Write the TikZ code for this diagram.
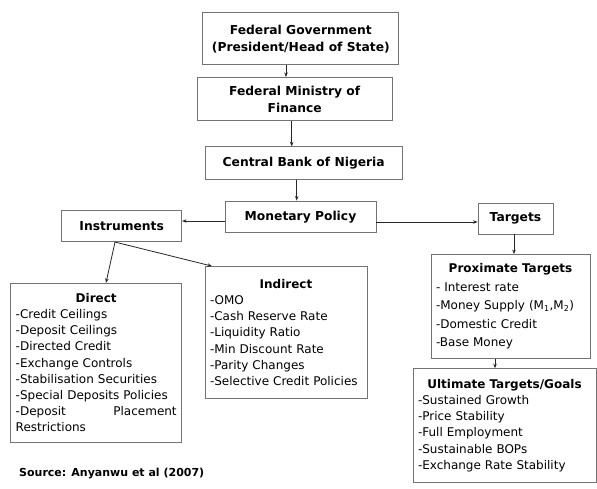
\documentclass[tikz,border=0pt]{standalone}
\usepackage{fontspec}
\setmainfont{DejaVu Sans}
\usetikzlibrary{arrows.meta}
\begin{document}
\begin{tikzpicture}[x=1pt,y=-1pt,
  box/.style={draw=black!55, line width=0.8pt, fill=white, inner sep=0pt, align=center,
    font=\bfseries\fontsize{12.3}{17.3}\selectfont},
  lst/.style={draw=black!55, line width=0.8pt, fill=white, inner xsep=5pt, inner ysep=0pt, align=left,
    font=\fontsize{12}{16.2}\selectfont},
  arr/.style={-{Stealth[length=4.5pt,width=3.5pt]}, line width=0.8pt, draw=black!85}]
\useasboundingbox[fill=white] (0,0) rectangle (597,488);

\node[box, minimum width=196, minimum height=52] (fed) at (300.8,38.8)
  {Federal Government\\(President/Head of State)};
\node[box, minimum width=195, minimum height=43.5] (min) at (294.7,99.1)
  {Federal Ministry of\\Finance};
\node[box, minimum width=197, minimum height=32.6] (cbn) at (303.7,163)
  {Central Bank of Nigeria};
\node[box, minimum width=151, minimum height=31.7] (mp) at (300.5,216.8)
  {Monetary Policy};
\node[box, minimum width=120, minimum height=31.7] (ins) at (121.7,225.8)
  {Instruments};
\node[box, minimum width=75, minimum height=31] (tgt) at (515.5,218.5)
  {Targets};

\node[lst, minimum width=171, minimum height=158.7, text width=161] (direct) at (96.2,362.6)
  {\hfill\textbf{Direct}\hfill\null\\
   -Credit Ceilings\\
   -Deposit Ceilings\\
   -Directed Credit\\
   -Exchange Controls\\
   -Stabilisation Securities\\
   -Special Deposits Policies\\
   -Deposit\hfill Placement\\
   Restrictions};
\node[lst, minimum width=162, minimum height=132, text width=152] (indirect) at (286,332.5)
  {\hfill\textbf{Indirect}\hfill\null\\
   -OMO\\
   -Cash Reserve Rate\\
   -Liquidity Ratio\\
   -Min Discount Rate\\
   -Parity Changes\\
   -Selective Credit Policies};
\node[lst, minimum width=159, minimum height=103.8, text width=149,
  font=\fontsize{12}{18.5}\selectfont] (prox) at (510.5,306.4)
  {\hfill\textbf{Proximate Targets}\hfill\null\\
   - Interest rate\\
   -Money Supply (M\textsubscript{1},M\textsubscript{2})\\
   -Domestic Credit\\
   -Base Money};
\node[lst, minimum width=183, minimum height=113.7, text width=173] (ult) at (504.5,425.5)
  {\hfill\textbf{Ultimate Targets/Goals}\hfill\null\\
   -Sustained Growth\\
   -Price Stability\\
   -Full Employment\\
   -Sustainable BOPs\\
   -Exchange Rate Stability};

\node[anchor=west, inner sep=0pt, font=\bfseries\fontsize{11}{13}\selectfont] (src) at (19,473)
  {Source: Anyanwu et al (2007)};

\draw[arr] (286,0 |- fed.south) -- (286,0 |- min.north);
\draw[arr] (291.7,0 |- min.south) -- (291.7,0 |- cbn.north);
\draw[arr] (296.7,0 |- cbn.south) -- (296.7,0 |- mp.north);
\draw[arr] (mp.west |- 0,221) -- (ins.east |- 0,221);
\draw[arr] (mp.east |- 0,222) -- (tgt.west |- 0,222);
\coordinate (insfoot) at (115,0 |- ins.south);
\draw[arr] (insfoot) -- (106,0 |- direct.north);
\draw[arr] (insfoot) -- (212,0 |- indirect.north);
\draw[arr] (514,0 |- tgt.south) -- (514,0 |- prox.north);
\draw[arr] (495,0 |- prox.south) -- (495,0 |- ult.north);
\end{tikzpicture}
\end{document}
